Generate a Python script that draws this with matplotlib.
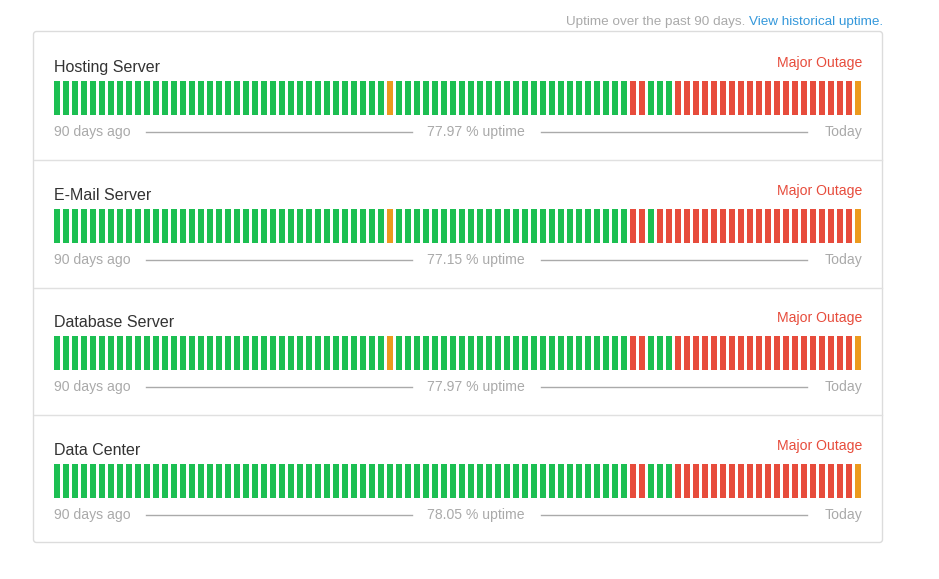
import matplotlib
matplotlib.use("Agg")
import matplotlib.pyplot as plt
from matplotlib.patches import FancyBboxPatch

plt.rcParams["font.family"] = ["Liberation Sans", "DejaVu Sans"]

# one character per day, oldest first: G = operational, O = partial, R = major outage
components = ["Hosting Server", "E-Mail Server", "Database Server", "Data Center"]
day_status = [
    "GGGGGGGGGG" "GGGGGGGGGG" "GGGGGGGGGG" "GGGGGGGOGG" "GGGGGGGGGG"
    "GGGGGGGGGG" "GGGGRRGGGR" "RRRRRRRRRR" "RRRRRRRRRO",
    "GGGGGGGGGG" "GGGGGGGGGG" "GGGGGGGGGG" "GGGGGGGOGG" "GGGGGGGGGG"
    "GGGGGGGGGG" "GGGGRRGRRR" "RRRRRRRRRR" "RRRRRRRRRO",
    "GGGGGGGGGG" "GGGGGGGGGG" "GGGGGGGGGG" "GGGGGGGOGG" "GGGGGGGGGG"
    "GGGGGGGGGG" "GGGGRRGGGR" "RRRRRRRRRR" "RRRRRRRRRO",
    "GGGGGGGGGG" "GGGGGGGGGG" "GGGGGGGGGG" "GGGGGGGGGG" "GGGGGGGGGG"
    "GGGGGGGGGG" "GGGGRRGGGR" "RRRRRRRRRR" "RRRRRRRRRO",
]
uptime_pct = [77.97, 77.15, 77.97, 78.05]
current_state = ["Major Outage"] * 4

status_colors = {"G": "#1cbf52", "O": "#ec9a1e", "R": "#e74c3c"}
W, H = 939, 579
row_offsets = [0, 128, 255, 383]

fig = plt.figure(figsize=(W / 100, H / 100), dpi=100)
ax = fig.add_axes([0, 0, 1, 1])
ax.set_xlim(0, W)
ax.set_ylim(H, 0)
ax.axis("off")

# card frame and separators
card = FancyBboxPatch((33.5, 31.5), 849, 511, boxstyle="round,pad=0,rounding_size=3",
                      facecolor="white", edgecolor="#dcdcdc", linewidth=1)
ax.add_patch(card)
for off in row_offsets[:-1]:
    ax.plot([34, 882], [159.5 + off, 159.5 + off], color="#e0e0e0", linewidth=1)

# header line
link = ax.text(883, 25, "View historical uptime.", ha="right", va="baseline",
               color="#3498db", fontsize=9.7)
fig.canvas.draw()
bb = link.get_window_extent()
ax.text(bb.x0 - 4, 25, "Uptime over the past 90 days.", ha="right", va="baseline",
        color="#aaaaaa", fontsize=9.7)

for name, days, pct, state, off in zip(components, day_status, uptime_pct,
                                       current_state, row_offsets):
    ax.text(54, 72 + off, name, ha="left", va="baseline", color="#333333", fontsize=11.5)
    ax.text(862, 67 + off, state, ha="right", va="baseline", color="#e74c3c", fontsize=10.1)

    # bar strip for 90 days
    bax = fig.add_axes([52.5 / W, 1 - (115 + off) / H, 810 / W, 34 / H])
    bax.bar(range(len(days)), [1] * len(days), width=6 / 9,
            color=[status_colors[s] for s in days], linewidth=0)
    bax.set_xlim(-0.5, len(days) - 0.5)
    bax.set_ylim(0, 1)
    bax.axis("off")

    ax.text(54, 136 + off, "90 days ago", ha="left", va="baseline", color="#aaaaaa", fontsize=10.1)
    ax.text(476, 136 + off, f"{pct:.2f} % uptime", ha="center", va="baseline",
            color="#aaaaaa", fontsize=10.1)
    ax.text(862, 136 + off, "Today", ha="right", va="baseline", color="#aaaaaa", fontsize=10.1)
    ax.plot([146, 412], [131.5 + off, 131.5 + off], color="#aaaaaa", linewidth=1)
    ax.plot([541, 807], [131.5 + off, 131.5 + off], color="#aaaaaa", linewidth=1)

fig.savefig("out.png", dpi=100, facecolor="white")
